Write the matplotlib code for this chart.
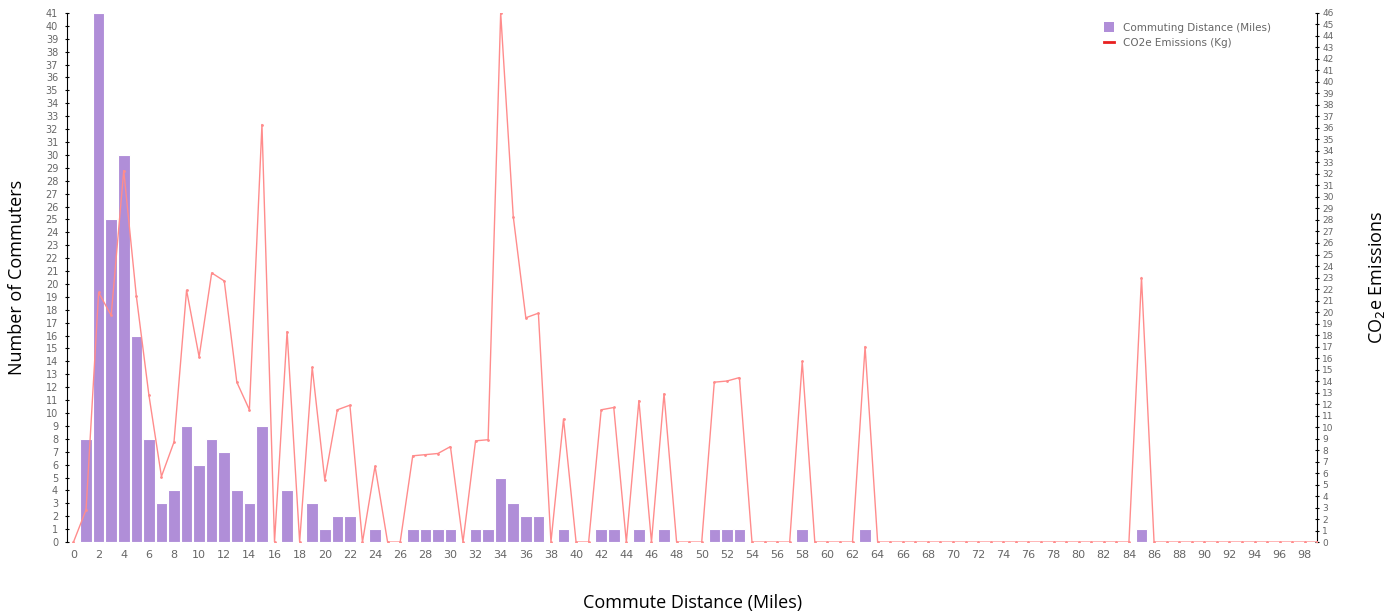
import numpy as np
from matplotlib import pyplot as plt
from matplotlib.patches import Patch
from matplotlib.lines import Line2D

# commute distance in miles, 0..99
distance = list(range(100))

# number of commuters per distance (left axis)
commuters = [0, 8, 41, 25, 30, 16, 8, 3, 4, 9,
             6, 8, 7, 4, 3, 9, 0, 4, 0, 3,
             1, 2, 2, 0, 1, 0, 0, 1, 1, 1,
             1, 0, 1, 1, 5, 3, 2, 2, 0, 1,
             0, 0, 1, 1, 0, 1, 0, 1, 0, 0,
             0, 1, 1, 1, 0, 0, 0, 0, 1, 0,
             0, 0, 0, 1, 0, 0, 0, 0, 0, 0,
             0, 0, 0, 0, 0, 0, 0, 0, 0, 0,
             0, 0, 0, 0, 0, 1, 0, 0, 0, 0,
             0, 0, 0, 0, 0, 0, 0, 0, 0, 0]

# CO2e emissions in kg (right axis)
emissions = [0, 2.8, 21.7, 19.7, 32.3, 21.4, 12.8, 5.7, 8.7, 21.9,
             16.1, 23.4, 22.7, 13.9, 11.5, 36.3, 0, 18.3, 0, 15.2,
             5.4, 11.5, 11.9, 0, 6.6, 0, 0, 7.5, 7.6, 7.7,
             8.3, 0, 8.8, 8.9, 46, 28.3, 19.5, 19.9, 0, 10.7,
             0, 0, 11.5, 11.7, 0, 12.3, 0, 12.9, 0, 0,
             0, 13.9, 14.0, 14.3, 0, 0, 0, 0, 15.7, 0,
             0, 0, 0, 17.0, 0, 0, 0, 0, 0, 0,
             0, 0, 0, 0, 0, 0, 0, 0, 0, 0,
             0, 0, 0, 0, 0, 23.0, 0, 0, 0, 0,
             0, 0, 0, 0, 0, 0, 0, 0, 0, 0]

bar_color = '#b08ed8'
line_color = '#ff8c8c'
tick_color = '#666666'

fig = plt.figure(figsize=(14, 6.16), dpi=100)
ax = fig.add_axes([0.048, 0.12, 0.893, 0.859])
ax2 = ax.twinx()

ax.bar(distance, commuters, width=0.92, color=bar_color, edgecolor='white', linewidth=0.8, zorder=2)
ax2.plot(distance, emissions, color=line_color, linewidth=1.0, marker='.', markersize=2, zorder=3)

ax.set_xlim(-0.5, 99)
ax.set_ylim(0, 41)
ax2.set_ylim(0, 46)

ax.set_xticks(range(0, 99, 2))
ax.set_yticks(range(0, 42))
ax2.set_yticks(range(0, 47))

ax.tick_params(axis='x', length=0, labelsize=8, colors=tick_color, pad=6)
ax.tick_params(axis='y', labelsize=7, colors=tick_color, length=3, direction='inout', pad=5)
ax2.tick_params(axis='y', labelsize=6.5, colors=tick_color, length=3, direction='inout', pad=2)
for a in (ax, ax2):
    a.tick_params(axis='y', color='black')
    for s in ('top', 'bottom'):
        a.spines[s].set_visible(False)
ax.spines['right'].set_visible(False)
ax2.spines['left'].set_visible(False)

ax.set_ylabel('Number of Commuters', fontsize=13, family='Open Sans', labelpad=14)
ax2.set_ylabel('CO$_2$e Emissions', fontsize=13, family='Open Sans', labelpad=24)
ax.set_xlabel('Commute Distance (Miles)', fontsize=13, family='Open Sans', labelpad=24)

handles = [Patch(facecolor=bar_color, edgecolor='none'),
           Line2D([0], [0], color='#e82020', linewidth=2)]
ax2.legend(handles, ['Commuting Distance (Miles)', 'CO2e Emissions (Kg)'],
           loc='upper right', bbox_to_anchor=(0.97, 1.0), frameon=False,
           fontsize=7.5, labelcolor=tick_color, handlelength=1.0, handleheight=1.0)

plt.savefig('out.png', dpi=100)
